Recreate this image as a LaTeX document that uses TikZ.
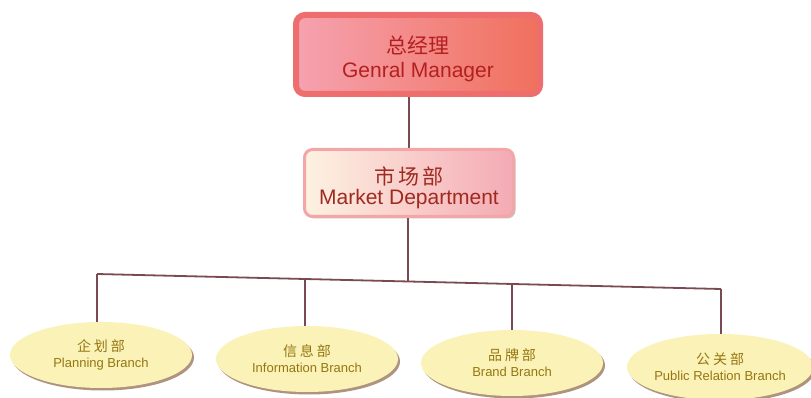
\documentclass[tikz,border=0pt]{standalone}
\usepackage{fontspec}
\setmainfont{Liberation Sans}
\newfontfamily\cjk{Noto Sans CJK SC}
\usetikzlibrary{shapes.geometric,shadows,backgrounds,calc}
\definecolor{gmframe}{HTML}{EE6E6E}
\definecolor{gmleft}{HTML}{F6A2B0}
\definecolor{gmright}{HTML}{F0705C}
\definecolor{gmtext}{HTML}{B42020}
\definecolor{mdframe}{HTML}{F2A6A6}
\definecolor{mdleft}{HTML}{FDF2E2}
\definecolor{mdright}{HTML}{F4AAB4}
\definecolor{mdtext}{HTML}{A02A20}
\definecolor{brfill}{HTML}{FAF2B6}
\definecolor{brtext}{HTML}{967612}
\definecolor{brshadow}{HTML}{9A7A60}
\definecolor{linecol}{HTML}{7A4A52}
\tikzset{
  gmbox/.style={rectangle, rounded corners=9pt, draw=gmframe, line width=6pt,
    left color=gmleft, right color=gmright, minimum width=244pt, minimum height=79pt,
    inner sep=0pt, align=center, text=gmtext,
    font=\fontsize{21}{25}\selectfont,
    drop shadow={shadow xshift=2pt, shadow yshift=-2pt, fill=gray, opacity=0.45}},
  mdbox/.style={rectangle, rounded corners=8pt, draw=mdframe, line width=3pt,
    left color=mdleft, right color=mdright, minimum width=209pt, minimum height=67pt,
    inner sep=0pt, align=center, text=mdtext,
    font=\fontsize{21}{21}\selectfont,
    drop shadow={shadow xshift=2pt, shadow yshift=-2pt, fill=gray, opacity=0.45}},
  branch/.style={ellipse, fill=brfill, draw=none, minimum width=182pt, minimum height=66pt,
    inner sep=0pt, align=center, text=brtext,
    font=\fontsize{13}{16}\selectfont,
    drop shadow={shadow xshift=2pt, shadow yshift=-2.5pt, fill=brshadow, opacity=0.8}},
  conn/.style={draw=linecol, line width=1.8pt},
}
\begin{document}
\begin{tikzpicture}[x=1pt,y=-1pt]
\useasboundingbox (0,0) rectangle (811,398);
\node[gmbox] (gm) at (418,54.5) {\rule{0pt}{27pt}{\cjk 总经理}\\[-1pt] Genral Manager};
\node[mdbox] (md) at (409,183) {\rule{0pt}{28pt}{\cjk 市\hspace{3pt}场\hspace{3pt}部}\\[-1pt] Market Department};
\node[branch] (b1) at (101,355) {{\cjk\fontsize{14}{16}\selectfont 企\hspace{3pt}划\hspace{3pt}部}\\ Planning Branch};
\node[branch] (b2) at (307,359) {{\cjk\fontsize{14}{16}\selectfont 信\hspace{3pt}息\hspace{3pt}部}\\ Information Branch};
\node[branch] (b3) at (512,363) {{\cjk\fontsize{14}{16}\selectfont 品\hspace{3pt}牌\hspace{3pt}部}\\ Brand Branch};
\node[branch] (b4) at (720,367) {{\cjk\fontsize{14}{16}\selectfont 公\hspace{3pt}关\hspace{3pt}部}\\ Public Relation Branch};
\coordinate (t1) at (97,274);
\coordinate (t2) at (305,279);
\coordinate (j0) at (408,281.5);
\coordinate (t3) at (512,284);
\coordinate (t4) at (721,289);
\begin{scope}[on background layer]
\fill[white] (0,0) rectangle (811,398);
\draw[conn] (md.north |- gm.south) -- (md.north);
\draw[conn] (j0 |- md.south) -- (j0);
\draw[conn] (t1) -- (t4);
\draw[conn] (t1) -- (t1 |- b1.north);
\draw[conn] (t2) -- ($(t2 |- b2.north)+(0,3)$);
\draw[conn] (t3) -- ($(t3 |- b3.north)+(0,3)$);
\draw[conn] (t4) -- ($(t4 |- b4.north)+(0,3)$);
\end{scope}
\end{tikzpicture}
\end{document}
